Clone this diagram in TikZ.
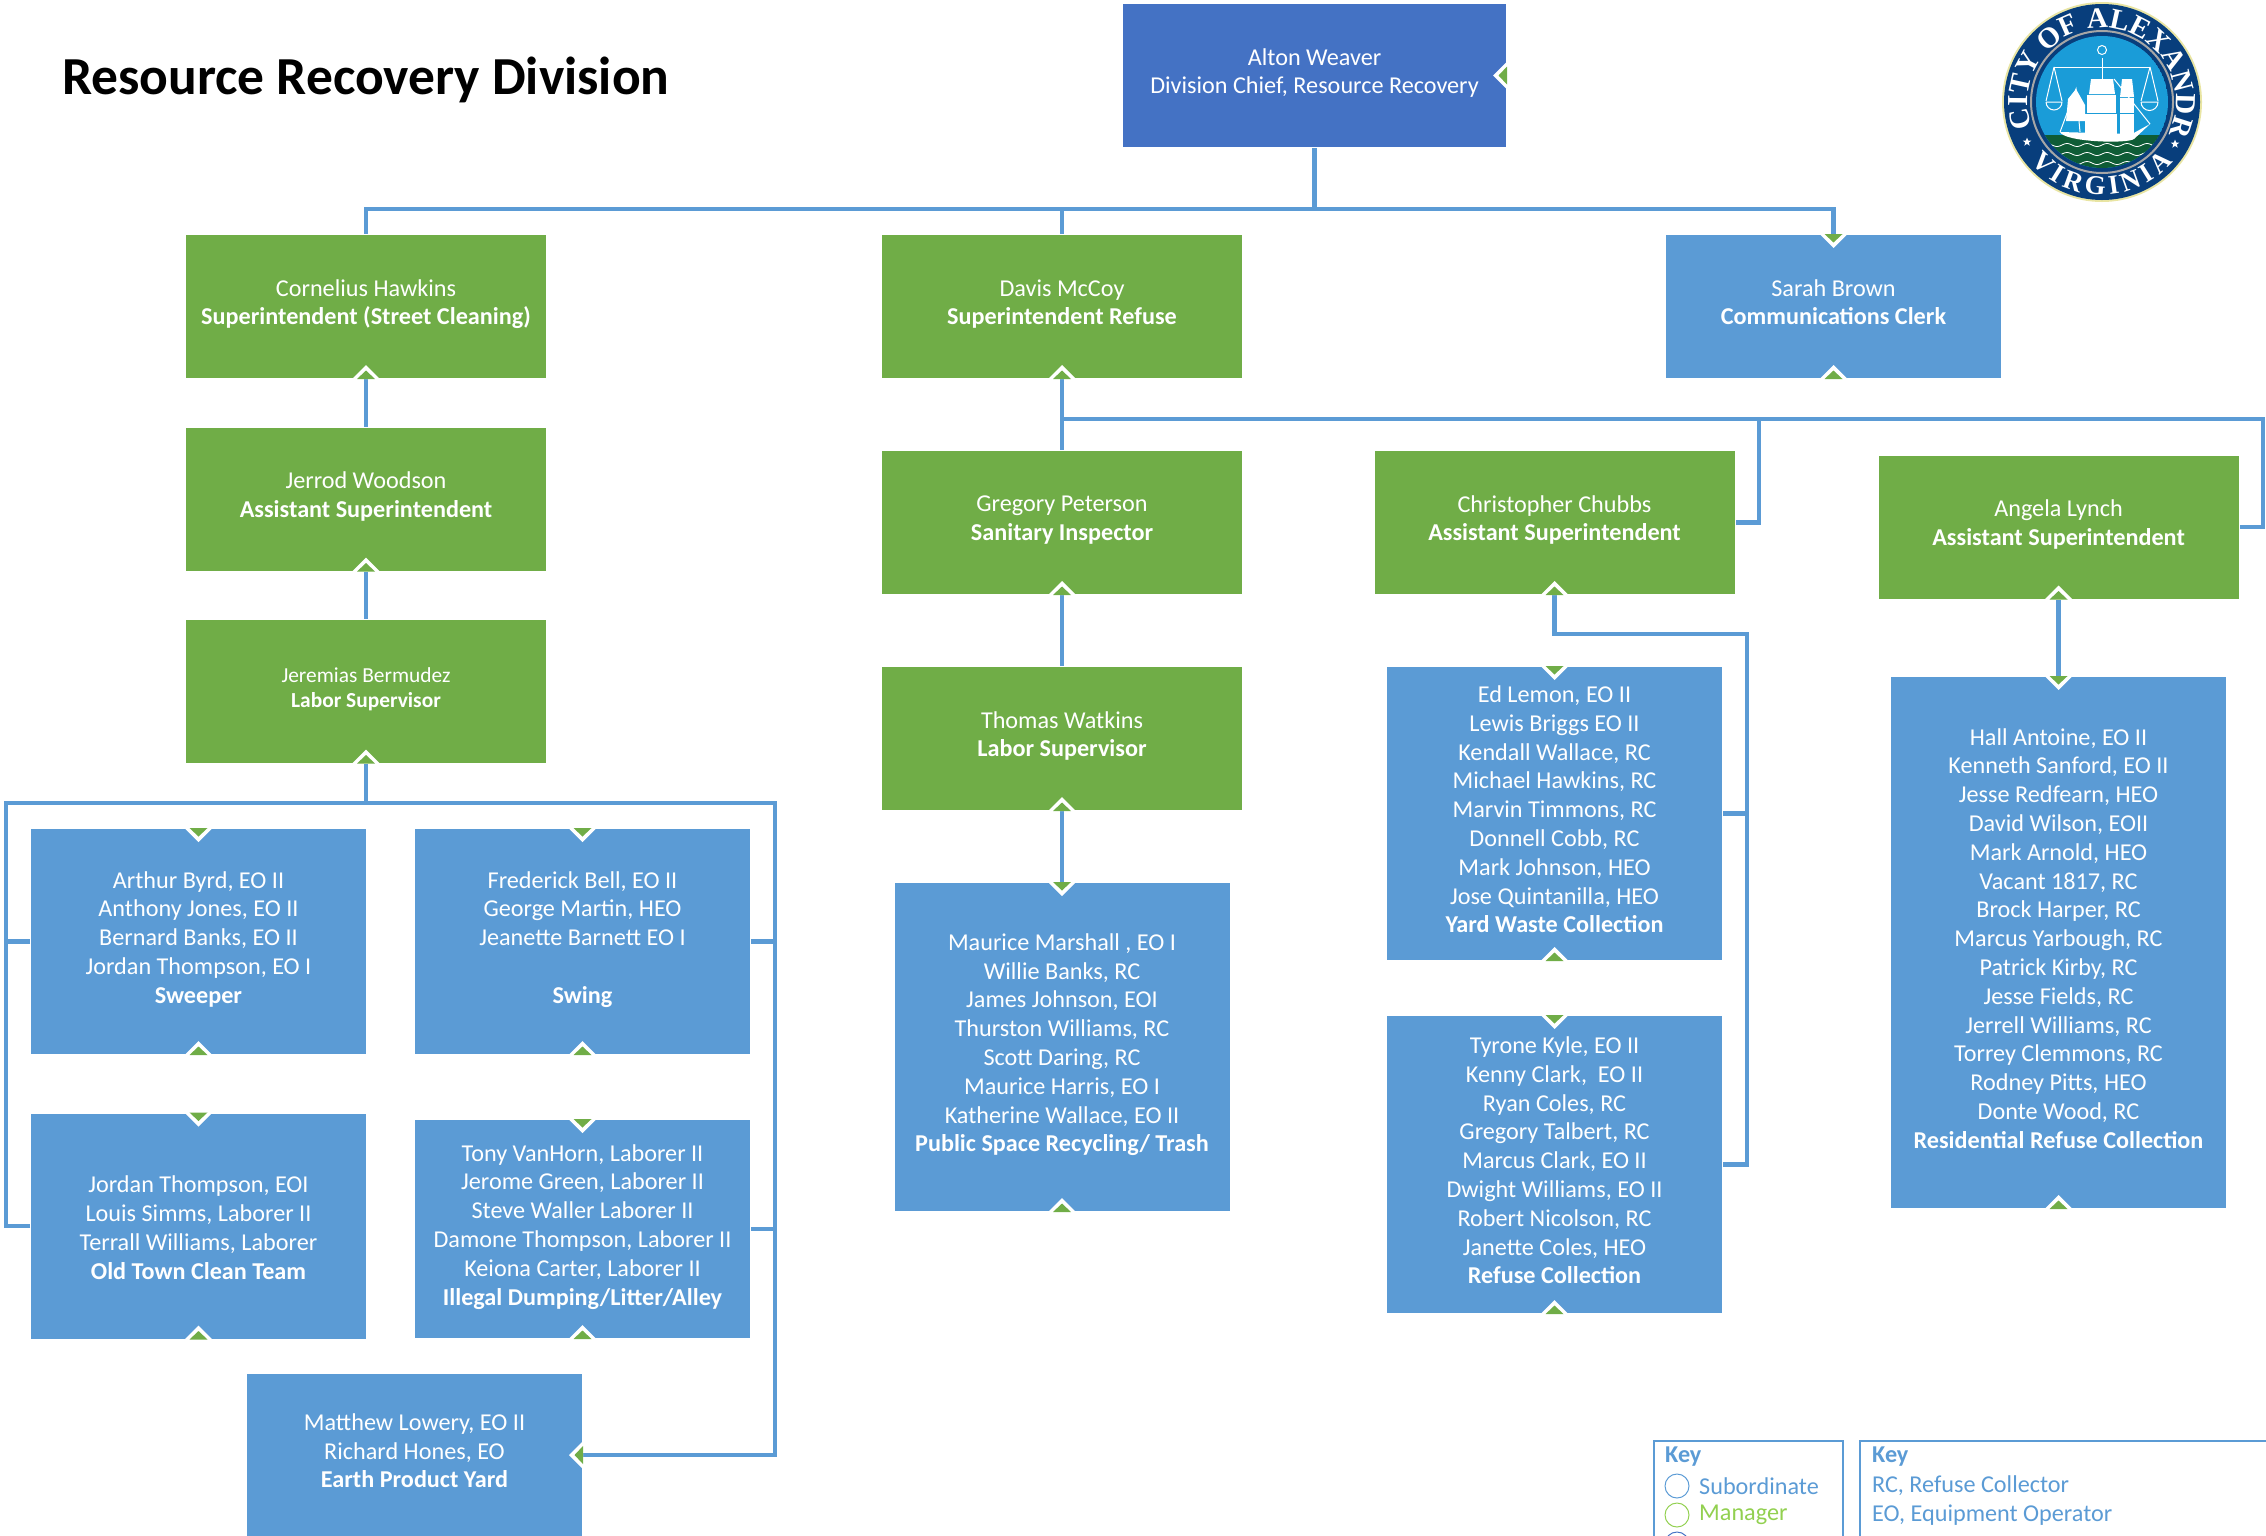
\documentclass[tikz,border=0pt]{standalone}
\usepackage{fontspec}
\setmainfont{Carlito}
\newfontfamily\sealfont{Liberation Serif}
\usetikzlibrary{shapes.geometric,decorations.text}

\definecolor{orgblue}{RGB}{91,155,213}
\definecolor{orggreen}{RGB}{112,173,71}
\definecolor{chiefblue}{RGB}{68,114,196}
\definecolor{limegreen}{RGB}{146,208,80}
\definecolor{sealnavy}{RGB}{8,62,124}
\definecolor{sealsky}{RGB}{26,156,216}
\definecolor{sealsea}{RGB}{14,92,54}

\newcommand\sealbig{\sealfont\bfseries\fontsize{29}{29}\selectfont}
\newcommand\sealsmall{\sealfont\bfseries\fontsize{27}{27}\selectfont}

\tikzset{
	link/.style={color=orgblue,line width=4.5pt},
	card/.style={text=white,draw=white,line width=1pt,inner sep=0pt,align=center,
		font=\fontsize{24.2}{28.8}\selectfont,
		execute at begin node=\strut,execute at end node=\strut},
	greencard/.style={card,fill=orggreen,minimum width=361pt,minimum height=144pt},
	bluecard/.style={card,fill=orgblue,minimum width=336pt},
	keytext/.style={anchor=west,inner sep=0pt,font=\fontsize{24.2}{28}\selectfont},
	keyring/.style={circle,draw,line width=1pt,inner sep=0pt,minimum size=24pt}
}

\begin{document}
\begin{tikzpicture}[x=1pt,y=-1pt]

	\newcommand\MarkUp[1]{
		\fill[white] (#1.south) +(-14,0) -- +(0,-14) -- +(14,0) -- cycle;
		\fill[orggreen] (#1.south) +(-9,0) -- +(0,-8.5) -- +(9,0) -- cycle;}
	\newcommand\MarkDown[1]{
		\fill[white] (#1.north) +(-14,0) -- +(0,14) -- +(14,0) -- cycle;
		\fill[orggreen] (#1.north) +(-9,0) -- +(0,8.5) -- +(9,0) -- cycle;}
	\newcommand\MarkSide[1]{
		\fill[white] (#1.east) +(0,-14) -- +(-14,0) -- +(0,14) -- cycle;
		\fill[orggreen] (#1.east) +(0,-9) -- +(-8.5,0) -- +(0,9) -- cycle;}

\clip (0,0) rectangle (2266,1535);

\node[anchor=west,inner sep=0pt,font=\bfseries\fontsize{53.5}{58}\selectfont] (title) at (62,80) {Resource Recovery Division};

\node[card,fill=chiefblue,minimum width=384pt,minimum height=144pt] (alton) at (1314.5,75.5) {Alton Weaver\\Division Chief, Resource Recovery};

\begin{scope}
	\node[greencard] (cornelius) at (366,306.5) {Cornelius Hawkins\\\textbf{Superintendent (Street Cleaning)}};
	\node[greencard] (jerrod) at (366,499) {Jerrod Woodson\\\textbf{Assistant Superintendent}};
	\node[greencard,font=\fontsize{21.4}{25}\selectfont] (jeremias) at (366,691) {Jeremias Bermudez\\\textbf{Labor Supervisor}};

	\node[bluecard,minimum height=226pt] (arthur) at (198.5,941.5) {Arthur Byrd, EO II\\Anthony Jones, EO II\\Bernard Banks, EO II\\Jordan Thompson, EO I\\\textbf{Sweeper}};
	\node[bluecard,minimum height=226pt] (frederick) at (582.5,941.5) {Frederick Bell, EO II\\George Martin, HEO\\Jeanette Barnett EO I\\\mbox{}\\\textbf{Swing}};
	\node[bluecard,minimum height=226pt] (jordan) at (198.5,1226) {\mbox{}\\Jordan Thompson, EOI\\Louis Simms, Laborer II\\Terrall Williams, Laborer\\\textbf{Old Town Clean Team}};
	\node[bluecard,minimum height=219pt] (tony) at (582.5,1229) {Tony VanHorn, Laborer II\\Jerome Green, Laborer II\\Steve Waller Laborer II\\Damone Thompson, Laborer II\\Keiona Carter, Laborer II\\\textbf{Illegal Dumping/Litter/Alley}};
	\node[bluecard,minimum height=163pt] (matthew) at (414.5,1455) {Matthew Lowery, EO II\\Richard Hones, EO\\\textbf{Earth Product Yard}};
\end{scope}

\begin{scope}
	\node[greencard] (davis) at (1062,306.5) {Davis McCoy\\\textbf{Superintendent Refuse}};
	\node[greencard] (gregory) at (1062,522.5) {Gregory Peterson\\\textbf{Sanitary Inspector}};
	\node[greencard] (thomas) at (1062,738.5) {Thomas Watkins\\\textbf{Labor Supervisor}};
	\node[bluecard,minimum height=329pt] (maurice) at (1062,1047) {Maurice Marshall , EO I\\Willie Banks, RC\\James Johnson, EOI\\Thurston Williams, RC\\Scott Daring, RC\\Maurice Harris, EO I\\Katherine Wallace, EO II\\\textbf{Public Space Recycling/ Trash}};
\end{scope}

\begin{scope}
	\node[card,fill=orgblue,minimum width=336pt,minimum height=144pt] (sarah) at (1833.5,306.5) {Sarah Brown\\\textbf{Communications Clerk}};
	\node[greencard] (christopher) at (1554.5,522.5) {Christopher Chubbs\\\textbf{Assistant Superintendent}};
	\node[greencard] (angela) at (2058.5,527) {Angela Lynch\\\textbf{Assistant Superintendent}};
	\node[bluecard,minimum height=294pt] (ed) at (1554.5,813.5) {Ed Lemon, EO II\\Lewis Briggs EO II\\Kendall Wallace, RC\\Michael Hawkins, RC\\Marvin Timmons, RC\\Donnell Cobb, RC\\Mark Johnson, HEO\\Jose Quintanilla, HEO\\\textbf{Yard Waste Collection}};
	\node[bluecard,minimum height=298pt] (tyrone) at (1554.5,1164.5) {Tyrone Kyle, EO II\\Kenny Clark,\ \ EO II\\Ryan Coles, RC\\Gregory Talbert, RC\\Marcus Clark, EO II\\Dwight Williams, EO II\\Robert Nicolson, RC\\Janette Coles, HEO\\\textbf{Refuse Collection}};
	\node[bluecard,minimum height=532pt] (hall) at (2058.5,942.5) {Hall Antoine, EO II\\Kenneth Sanford, EO II\\Jesse Redfearn, HEO\\David Wilson, EOII\\Mark Arnold, HEO\\Vacant 1817, RC\\Brock Harper, RC\\Marcus Yarbough, RC\\Patrick Kirby, RC\\Jesse Fields, RC\\Jerrell Williams, RC\\Torrey Clemmons, RC\\Rodney Pitts, HEO\\Donte Wood, RC\\\textbf{Residential Refuse Collection}};
\end{scope}

\coordinate (topbus) at (1314.5,209);
\coordinate (crewbus) at (366,803);
\coordinate (crewleft) at (6,803);
\coordinate (crewright) at (775,803);
\coordinate (refusebus) at (1062,419);
\coordinate (chrisbus) at (1759,419);
\coordinate (angelabus) at (2263,419);
\coordinate (yardbus) at (1747,634);

\draw[link] (alton.south) -- (topbus);
\draw[link] (topbus) -| (cornelius.north);
\draw[link] (topbus) -| (davis.north);
\draw[link] (topbus) -| (sarah.north);
\draw[link] (cornelius.south) -- (jerrod.north);
\draw[link] (jerrod.south) -- (jeremias.north);
\draw[link] (jeremias.south) -- (crewbus);
\draw[link] (jordan.west) -| (crewleft) -- (crewright) |- (matthew.east);
\draw[link] (arthur.west) -- (arthur.west -| crewleft);
\draw[link] (frederick.east) -- (frederick.east -| crewright);
\draw[link] (tony.east) -- (tony.east -| crewright);
\draw[link] (davis.south) -- (gregory.north);
\draw[link] (gregory.south) -- (thomas.north);
\draw[link] (thomas.south) -- (maurice.north);
\draw[link] (refusebus) -- (angelabus) |- (angela.east);
\draw[link] (chrisbus) |- (christopher.east);
\draw[link] (christopher.south) |- (yardbus) |- (tyrone.east);
\draw[link] (ed.east) -- (ed.east -| yardbus);
\draw[link] (angela.south) -- (hall.north);

\foreach \who in {cornelius,davis,sarah,jerrod,jeremias,gregory,thomas,christopher,angela,arthur,frederick,jordan,tony,maurice,ed,tyrone,hall}
	{\MarkUp{\who}}
\foreach \who in {sarah,arthur,frederick,jordan,tony,maurice,ed,tyrone,hall}
	{\MarkDown{\who}}
\MarkSide{alton}
\MarkSide{matthew}

\draw[color=orgblue,line width=1.2pt] (1654,1441) rectangle (1843,1560);
\draw[color=orgblue,line width=1.2pt] (1860,1441) rectangle (2290,1560);
\node[keytext,text=orgblue] (keya) at (1665,1457) {\textbf{Key}};
\node[keyring,color=orgblue] (ringsub) at (1677,1486) {};
\node[keytext,text=orgblue] (keysub) at (1699,1486) {Subordinate};
\node[keyring,color=limegreen] (ringman) at (1677,1515) {};
\node[keytext,text=limegreen] (keyman) at (1699,1515) {Manager};
\node[keyring,color=chiefblue] (ringchief) at (1677,1544) {};
\node[keytext,text=orgblue] (keyb) at (1872,1457) {\textbf{Key}};
\node[keytext,text=orgblue] (keyrc) at (1872,1486) {RC, Refuse Collector};
\node[keytext,text=orgblue] (keyeo) at (1872,1515) {EO, Equipment Operator};

\coordinate (seal) at (2102,102);
\begin{scope}[shift={(seal)},x=1pt,y=1pt]
	\fill[color=black!25!yellow!40!white] (0,0) circle (100);
	\fill[sealnavy] (0,0) circle (98);
	\draw[color=black!35!white,line width=2pt] (0,0) circle (71);
	\begin{scope}
		\clip (0,0) circle (66);
		\fill[sealsky] (0,0) circle (66);
		\fill[sealsea] (-70,-33) rectangle (70,-70);
		\foreach \y in {-43,-52,-61}
			\draw[white,line width=0.8pt] plot[domain=-60:60,samples=70] (\x,{\y+1.5*sin(18*\x)});
	\end{scope}
	\draw[white,line width=1pt] (0,23) -- (0,44);
	\draw[white,line width=1pt] (0,52) circle (4.5);
	\draw[white,line width=1pt] (-48,35) -- (48,35);
	\draw[white,line width=1pt] (-48,35) -- (-56,1) (-48,35) -- (-40,1);
	\draw[white,line width=1pt] (48,35) -- (39,1) (48,35) -- (56,1);
	\draw[white,line width=1pt] (-56,0) -- (-40,0) arc[start angle=0,end angle=-180,radius=8];
	\draw[white,line width=1pt] (39,0) -- (56,0) arc[start angle=0,end angle=-180,radius=8.5];
	\fill[white] (-11,23) -- (11,23) -- (13,8) -- (-13,8) -- cycle;
	\fill[white] (-15,7.4) rectangle (14,-11);
	\fill[white] (-17,-11.6) rectangle (15,-32);
	\fill[white] (20,23) -- (30,23) -- (32,5) -- (18,5) -- cycle;
	\fill[white] (18,4.4) rectangle (32,-11);
	\fill[white] (18,-11.6) rectangle (32,-32);
	\fill[white] (-36,-19) -- (-34,3) -- (-26,13) -- (-17,-3) -- (-17,-19) -- cycle;
	\draw[white,line width=1pt] (-42,-30) -- (-26,13) -- (-22,-30);
	\draw[white,line width=1pt] (12,23) -- (48,-22);
	\fill[white] (-42,-30) .. controls (-38,-40) and (25,-42) .. (32,-37) -- (48,-22) -- (30,-32) -- cycle;
	\path[decorate,decoration={text along path,text color=white,text align=fit to path,
		text={|\sealbig|CITY OF ALEXANDRIA}}] (200:74) arc[start angle=200,end angle=-20,radius=74];
	\path[decorate,decoration={text along path,text color=white,text align=fit to path,
		text={|\sealsmall|VIRGINIA}}] (220:93) arc[start angle=220,end angle=320,radius=93];
	\node[star,star points=5,star point ratio=2.4,fill=white,inner sep=0pt,minimum size=9pt] (stara) at (-75,-40) {};
	\node[star,star points=5,star point ratio=2.4,fill=white,inner sep=0pt,minimum size=9pt] (starb) at (73,-42) {};
\end{scope}

\end{tikzpicture}
\end{document}
